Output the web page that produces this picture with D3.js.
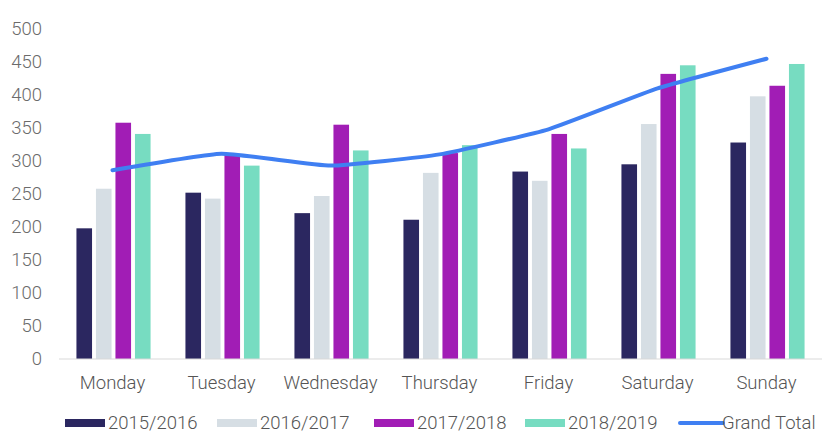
<!DOCTYPE html>
<html>
<head>
<meta charset="utf-8">
<script src="https://cdn.jsdelivr.net/npm/d3@7"></script>
<style>
  body { margin: 0; background: #fff; }
  svg { display: block; font-family: Roboto, "Liberation Sans", sans-serif; }
</style>
</head>
<body>
<div id="chart"></div>
<script>
const days = ['Monday', 'Tuesday', 'Wednesday', 'Thursday', 'Friday', 'Saturday', 'Sunday'];
const seasons = ['2015/2016', '2016/2017', '2017/2018', '2018/2019'];
const s2015 = [198, 252, 221, 211, 284, 295, 328];
const s2016 = [258, 243, 247, 282, 270, 356, 398];
const s2017 = [358, 309, 355, 312, 341, 432, 414];
const s2018 = [341, 293, 316, 324, 319, 445, 447];
const grandTotal = [286, 311, 293, 310, 348, 410, 455];
const yTicks = [0, 50, 100, 150, 200, 250, 300, 350, 400, 450, 500];

const colors = ['#2b2760', '#d6dee4', '#a11db5', '#77dcc1'];
const lineColor = '#3f7ff2';

const w = 823, h = 433;
const m = { t: 29, r: 1, b: 74, l: 59 };

const svg = d3.select('#chart').append('svg')
  .attr('width', w).attr('height', h)
  .attr('viewBox', `0 0 ${w} ${h}`);

const x0 = d3.scaleBand().domain(days)
  .range([m.l, w - m.r])
  .paddingInner(0.32).paddingOuter(0.16);

const x1 = d3.scaleBand().domain(seasons)
  .range([0, x0.bandwidth()])
  .paddingInner(0.2);

const y = d3.scaleLinear().domain([0, 500]).range([h - m.b, m.t]);

const series = [s2015, s2016, s2017, s2018];

// bars
seasons.forEach((s, i) => {
  svg.append('g').selectAll('rect')
    .data(days)
    .join('rect')
    .attr('x', d => x0(d) + x1(s))
    .attr('y', (d, j) => y(series[i][j]))
    .attr('width', x1.bandwidth())
    .attr('height', (d, j) => y(0) - y(series[i][j]))
    .attr('fill', colors[i]);
});

// baseline
svg.append('line')
  .attr('x1', m.l).attr('x2', w - m.r)
  .attr('y1', y(0)).attr('y2', y(0))
  .attr('stroke', '#d9d9d9').attr('stroke-width', 1);

// y labels
svg.append('g').selectAll('text')
  .data(yTicks)
  .join('text')
  .attr('x', 42)
  .attr('y', d => y(d))
  .attr('dy', '0.35em')
  .attr('text-anchor', 'end')
  .attr('font-size', 18.5)
  .attr('font-weight', 300)
  .attr('fill', '#6b6b6b')
  .text(d => d);

// x labels
svg.append('g').selectAll('text')
  .data(days)
  .join('text')
  .attr('x', d => x0(d) + x0.bandwidth() / 2 - 1)
  .attr('y', y(0) + 30)
  .attr('text-anchor', 'middle')
  .attr('font-size', 18.5)
  .attr('font-weight', 300)
  .attr('fill', '#555')
  .text(d => d);

// grand total line
const line = d3.line()
  .x((d, i) => x0(days[i]) + x0.bandwidth() / 2 - 1)
  .y(d => y(d))
  .curve(d3.curveCardinal.tension(0.6));

svg.append('path')
  .datum(grandTotal)
  .attr('d', line)
  .attr('fill', 'none')
  .attr('stroke', lineColor)
  .attr('stroke-width', 4)
  .attr('stroke-linecap', 'round');

// legend
const legendItems = [
  { label: seasons[0], color: colors[0], x: 65 },
  { label: seasons[1], color: colors[1], x: 217 },
  { label: seasons[2], color: colors[2], x: 374 },
  { label: seasons[3], color: colors[3], x: 525 },
  { label: 'Grand Total', color: lineColor, x: 679, line: true }
];
const ly = 423;
const lg = svg.append('g');
legendItems.forEach(it => {
  if (it.line) {
    lg.append('line')
      .attr('x1', it.x + 1).attr('x2', it.x + 44)
      .attr('y1', ly).attr('y2', ly)
      .attr('stroke', it.color).attr('stroke-width', 4)
      .attr('stroke-linecap', 'round');
  } else {
    lg.append('rect')
      .attr('x', it.x).attr('y', ly - 4)
      .attr('width', 40).attr('height', 8)
      .attr('fill', it.color);
  }
  lg.append('text')
    .attr('x', it.x + 43)
    .attr('y', ly)
    .attr('dy', '0.35em')
    .attr('font-size', 18.5)
    .attr('font-weight', 300)
    .attr('fill', '#555')
    .text(it.label);
});
</script>
</body>
</html>
